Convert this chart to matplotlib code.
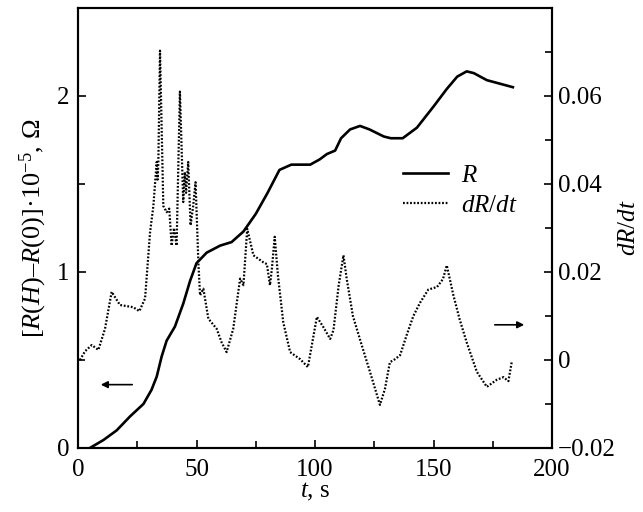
import matplotlib.pyplot as plt
from matplotlib.ticker import MultipleLocator

plt.rcParams['font.family'] = ['Liberation Serif', 'DejaVu Serif']
plt.rcParams['mathtext.fontset'] = 'custom'
plt.rcParams['mathtext.rm'] = 'Liberation Serif'
plt.rcParams['mathtext.it'] = 'Liberation Serif:italic'

# R curve (left axis)
t_R = [5, 10.7, 16.3, 22, 27.6, 31, 33.2, 35.3, 37.4, 40.9, 44.4, 47.3, 50, 54.3, 60,
       64.8, 69.8, 75, 80, 85, 90, 95, 98, 102, 105, 108.5, 111, 114.8, 119, 123, 129,
       132, 137, 143, 150, 155.6, 160, 164, 167, 172.5, 178, 183.5]
R = [0, 0.045, 0.10, 0.18, 0.25, 0.33, 0.405, 0.52, 0.61, 0.69, 0.82, 0.95, 1.05, 1.11,
     1.15, 1.17, 1.23, 1.33, 1.45, 1.58, 1.61, 1.61, 1.61, 1.64, 1.67, 1.69, 1.76, 1.81,
     1.83, 1.81, 1.77, 1.76, 1.76, 1.82, 1.94, 2.04, 2.11, 2.14, 2.13, 2.09, 2.07, 2.05]

# dR/dt curve (right axis)
t_d = [0.8, 3, 5.8, 8.6, 11.4, 14.2, 17.7, 23.3, 25.9, 28.3, 30.4, 31.8, 33.2, 33.6, 33.9,
       34.6, 36, 37.4, 38.5, 39.5, 40.5, 41.6, 43, 44.4, 45.1, 45.6, 46.5, 47.5, 48.6,
       49.6, 50.8, 51.5, 52.9, 55, 58.5, 60.6, 62.7, 65.5, 68.4, 69.8, 71.4, 74, 78.2,
       79.7, 81, 81.8, 83, 84.4, 86.6, 89.5, 93.7, 97, 100.8, 103.5, 106.4, 107.8, 110,
       112, 113.4, 116, 119.7, 123.2, 127.4, 129.5, 131.6, 133.8, 135.9, 138.7, 141.5,
       144.3, 147.8, 151.5, 154, 155.6, 158.4, 161, 164, 168.3, 172.5, 176.7, 179.5,
       181.6, 183]
dRdt = [0, 0.002, 0.0034, 0.0023, 0.0071, 0.0155, 0.0125, 0.012, 0.0111, 0.014, 0.029,
        0.035, 0.045, 0.041, 0.045, 0.0703, 0.035, 0.0336, 0.0344, 0.026, 0.030, 0.026,
        0.061, 0.0359, 0.0427, 0.038, 0.045, 0.0306, 0.035, 0.0404, 0.022, 0.0147, 0.0162,
        0.0094, 0.0071, 0.004, 0.0018, 0.0071, 0.0185, 0.017, 0.0298, 0.0238, 0.0222,
        0.0218, 0.017, 0.0207, 0.028, 0.019, 0.0086, 0.0018, 0.0002, -0.0016, 0.0098,
        0.0075, 0.0048, 0.0068, 0.017, 0.0238, 0.0184, 0.010, 0.0034, -0.0027, -0.0102,
        -0.0066, -0.0005, 0.0002, 0.0011, 0.0057, 0.010, 0.013, 0.016, 0.0166, 0.0184,
        0.0215, 0.0147, 0.0093, 0.004, -0.0027, -0.0061, -0.0045, -0.0039, -0.0048,
        -0.0005]

fig = plt.figure(figsize=(6.43, 5.12), dpi=100)
ax = fig.add_axes([78/643, 64/512, 474/643, 440/512])
ax2 = ax.twinx()

l1, = ax.plot(t_R, R, color='black', lw=1.9, label='$R$')
l2, = ax2.plot(t_d, dRdt, color='black', lw=1.6, ls=(0, (0.8, 0.8)), label='$dR/dt$')

ax.set_xlim(0, 200)
ax.set_ylim(0, 2.5)
ax2.set_ylim(-0.02, 0.08)

ax.xaxis.set_major_locator(MultipleLocator(50))
ax.xaxis.set_minor_locator(MultipleLocator(25))
ax.yaxis.set_major_locator(MultipleLocator(1))
ax.yaxis.set_minor_locator(MultipleLocator(0.5))
ax2.yaxis.set_minor_locator(MultipleLocator(0.01))
ax2.set_yticks([-0.02, 0, 0.02, 0.04, 0.06])
ax2.set_yticklabels(['\u22120.02', '0', '0.02', '0.04', '0.06'])

for a in (ax, ax2):
    for s in a.spines.values():
        s.set_linewidth(1.5)
    a.tick_params(which='both', direction='in', labelsize=18, width=1.2)
    a.tick_params(which='major', length=6)
    a.tick_params(which='minor', length=5)
ax.tick_params(axis='x', pad=8)
ax.tick_params(axis='y', pad=6)
ax2.tick_params(axis='y', pad=4)

ax.set_xlabel('$t$, s', fontsize=18, labelpad=0)
ax.set_ylabel('[$R$($H$)\u2013$R$(0)]\u00b710$^{-5}$, \u03a9', fontsize=19, labelpad=6)
ax2.set_ylabel('$dR/dt$', fontsize=18, labelpad=2)

ax.annotate('', xy=(98, 0.36), xytext=(135, 0.36),
            arrowprops=dict(arrowstyle='-|>', color='black', lw=1.2, mutation_scale=10),
            xycoords=('figure pixels', 'data'), textcoords=('figure pixels', 'data'))
ax2.annotate('', xy=(527, 0.008), xytext=(492, 0.008),
             arrowprops=dict(arrowstyle='-|>', color='black', lw=1.2, mutation_scale=10),
             xycoords=('figure pixels', 'data'), textcoords=('figure pixels', 'data'))

ax2.legend(handles=[l1, l2], loc='upper left', bbox_to_anchor=(0.686, 0.645),
           frameon=False, fontsize=18, handlelength=1.8, handletextpad=0.5,
           labelspacing=0.3, borderpad=0, borderaxespad=0)

fig.savefig('out.png', dpi=100)
